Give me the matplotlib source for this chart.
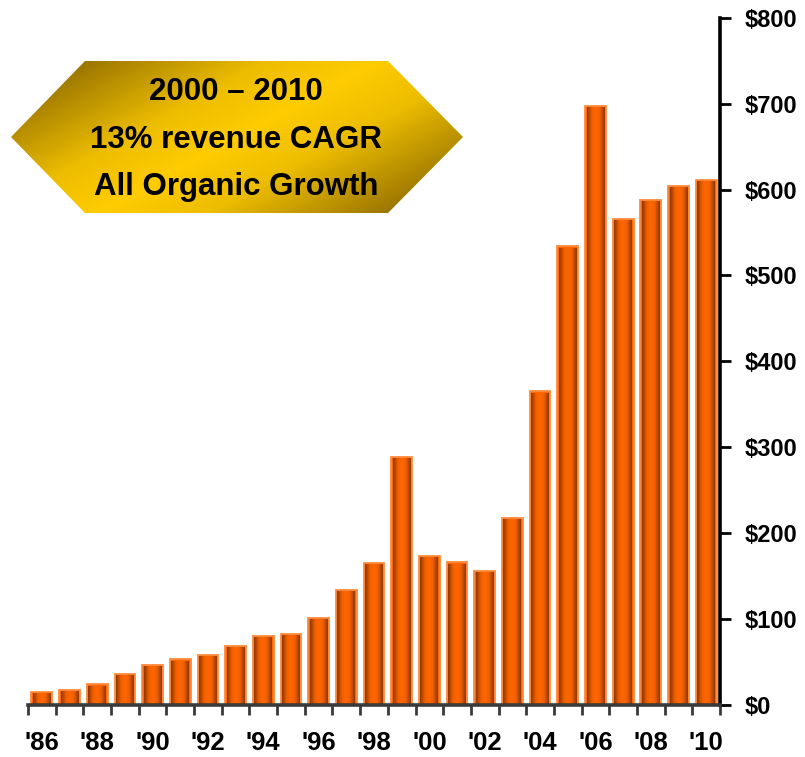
import numpy as np
import matplotlib
matplotlib.use("Agg")
import matplotlib.pyplot as plt
from matplotlib.colors import LinearSegmentedColormap
from matplotlib.patches import Polygon

plt.rcParams["font.family"] = ["Liberation Sans", "DejaVu Sans"]
plt.rcParams["font.weight"] = "bold"

# revenue by fiscal year, $ millions
years = ["'86", "'87", "'88", "'89", "'90", "'91", "'92", "'93", "'94", "'95",
         "'96", "'97", "'98", "'99", "'00", "'01", "'02", "'03", "'04", "'05",
         "'06", "'07", "'08", "'09", "'10"]
revenue = [15, 18, 24, 36, 47, 53, 58, 69, 80, 83,
           101, 134, 165, 289, 174, 166, 156, 218, 365, 534,
           697, 566, 588, 604, 611]
y_ticks = [0, 100, 200, 300, 400, 500, 600, 700, 800]
y_labels = ["$0", "$100", "$200", "$300", "$400", "$500", "$600", "$700", "$800"]
callout_lines = ["2000 \u2013 2010", "13% revenue CAGR", "All Organic Growth"]

W, H = 805, 757
fig = plt.figure(figsize=(W / 100, H / 100), dpi=100)
ax = fig.add_axes([28 / W, 52 / H, (720 - 28) / W, (705 - 17.8) / H])

x = np.arange(len(years))
bars = ax.bar(x, revenue, width=0.75, color="#FF6600", edgecolor="#FF8A3D",
              linewidth=1.3, zorder=2)

# cylinder-like shading inside each bar
bar_cmap = LinearSegmentedColormap.from_list(
    "bar", [(0, "#8E3700"), (0.28, "#F26100"), (0.5, "#FF6600"),
            (0.72, "#F26100"), (1, "#8E3700")])
grad = np.linspace(0, 1, 64).reshape(1, -1)
for b in bars:
    x0, w, h = b.get_x(), b.get_width(), b.get_height()
    pad = w * 0.07
    ax.imshow(grad, extent=[x0 + pad, x0 + w - pad, 0, h - 2], aspect="auto",
              cmap=bar_cmap, zorder=3, interpolation="bicubic")

ax.set_xlim(-0.5, len(years) - 0.5)
ax.set_ylim(0, 800)

for side in ["left", "top"]:
    ax.spines[side].set_visible(False)
ax.spines["right"].set_linewidth(2.6)
ax.spines["right"].set_color("black")
ax.spines["bottom"].set_linewidth(2.6)
ax.spines["bottom"].set_color("#3a3a3a")
ax.spines["bottom"].set_zorder(4)

ax.yaxis.tick_right()
ax.set_yticks(y_ticks, y_labels)
ax.tick_params(axis="y", direction="out", length=8, width=2, pad=10,
               labelsize=17, colors="black")
for t in ax.get_yticklabels():
    t.set_fontweight("bold")

ax.set_xticks(x[::2], years[::2])
ax.set_xticks(np.arange(-0.5, len(years), 1), minor=True)
ax.tick_params(axis="x", which="major", length=0, pad=19, labelsize=18.5)
ax.tick_params(axis="x", which="minor", direction="out", length=7, width=2,
               color="#3a3a3a")
for t in ax.get_xticklabels():
    t.set_fontweight("bold")

# golden hexagon callout
ov = fig.add_axes([0, 0, 1, 1], zorder=5)
ov.set_xlim(0, W)
ov.set_ylim(H, 0)
ov.axis("off")
hexagon = [(11, 137), (85, 61), (388, 61), (463, 137), (388, 213), (85, 213)]
poly = Polygon(hexagon, closed=True, facecolor="none", edgecolor="none")
ov.add_patch(poly)
gold_cmap = LinearSegmentedColormap.from_list(
    "gold", [(0, "#7A5A00"), (0.35, "#EDBD00"), (0.5, "#FFCC00"),
             (0.65, "#EDBD00"), (1, "#7A5A00")])
gx, gy = np.meshgrid(np.linspace(0, 1, 200), np.linspace(0, 1, 100))
proj = (gx * 0.62 + gy * 0.38)
img = ov.imshow(proj, extent=[11, 463, 213, 61], cmap=gold_cmap,
                aspect="auto", interpolation="bicubic", zorder=1)
img.set_clip_path(poly)
for line, yy in zip(callout_lines, [92, 140, 187]):
    ov.text(236, yy, line, ha="center", va="center", fontsize=22.5,
            fontweight="bold", color="black", zorder=2)

fig.savefig("out.png", dpi=100)
